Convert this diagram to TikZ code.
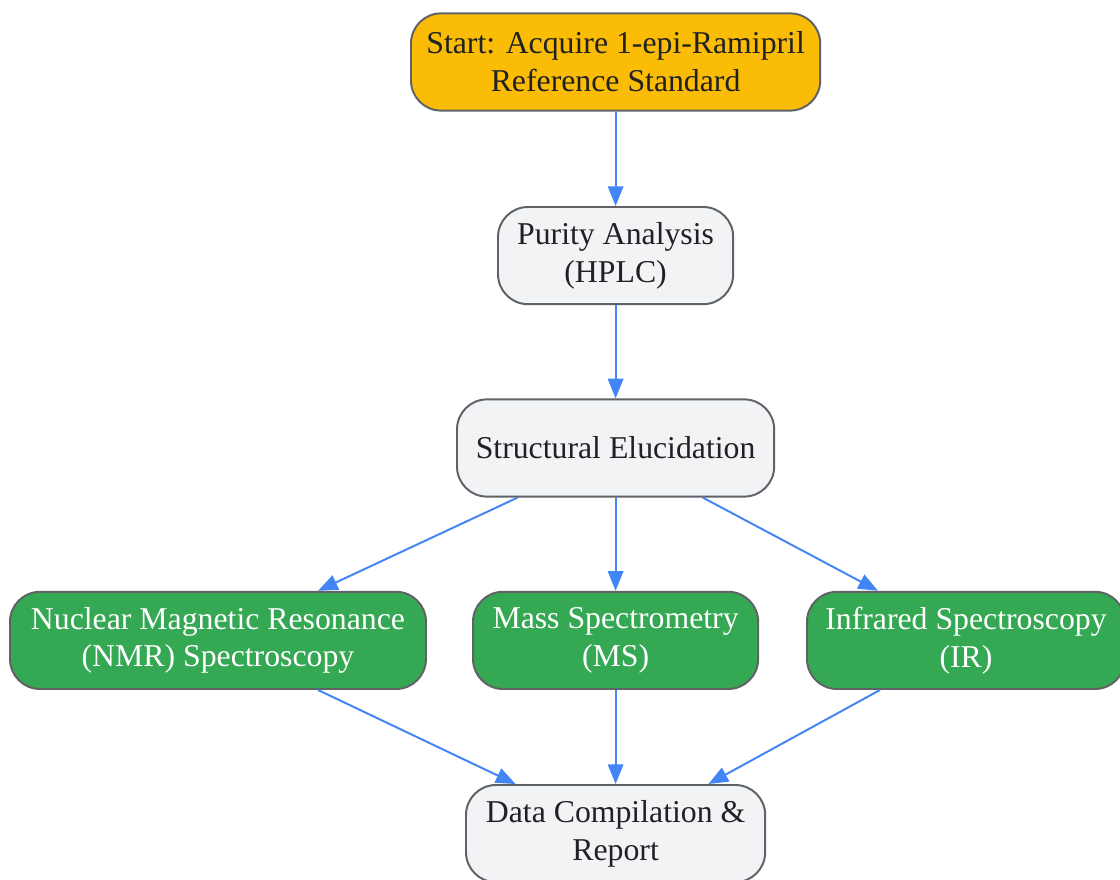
\documentclass[tikz,border=0pt]{standalone}
\usepackage{fontspec}
\setmainfont{Liberation Serif}
\usepackage{xcolor}
\usepackage{tikz}
\usetikzlibrary{calc, arrows.meta, positioning, shapes}

\definecolor{startorange}{HTML}{FBBC05}
\definecolor{stepgray}{HTML}{F1F3F4}
\definecolor{methodgreen}{HTML}{34A853}
\definecolor{edgeblue}{HTML}{4285F4}
\definecolor{bordergray}{HTML}{5F6368}
\definecolor{textdark}{HTML}{202124}

\begin{document}
\begin{tikzpicture}[auto, >={Triangle[length=14pt, width=11pt]}]
		\tikzstyle{box} = [draw=bordergray, line width=1.4pt, rounded corners=0.75cm, align=center, minimum height=2.43cm, inner sep=2pt, font=\fontsize{22.6}{27}\selectfont]
		\tikzstyle{start} = [box, fill=startorange, text=textdark]
		\tikzstyle{plain} = [box, fill=stepgray, text=textdark]
		\tikzstyle{method} = [box, fill=methodgreen, text=white]
		\tikzstyle{flow} = [draw=edgeblue, fill=edgeblue, line width=1.4pt, -{Triangle[length=14pt, width=11pt]}]
		
		\useasboundingbox (0, 0) rectangle (28, 22);
		
		\node[start, minimum width=10.23cm] 	at (15.39, 20.45) 	(st) 	{Start: Acquire 1-epi-Ramipril\\Reference Standard};
		\node[plain, minimum width=5.88cm] 	at (15.39, 15.61) 	(pur) 	{Purity Analysis\\(HPLC)};
		\node[plain, minimum width=7.93cm] 	at (15.39, 10.80) 	(sc) 	{Structural Elucidation};
		\node[method, minimum width=10.40cm] 	at (5.45, 5.99) 	(nmr) 	{Nuclear Magnetic Resonance\\(NMR) Spectroscopy};
		\node[method, minimum width=7.13cm] 	at (15.39, 5.99) 	(ms) 	{Mass Spectrometry\\(MS)};
		\node[method, minimum width=7.95cm] 	at (24.15, 5.99) 	(ir) 	{Infrared Spectroscopy\\(IR)};
		\node[plain, minimum width=7.48cm] 	at (15.39, 1.16) 	(rep) 	{Data Compilation \&\\Report};
		
		\path[every edge/.style={flow}]
		(st)	edge	(pur)
		(pur)	edge	(sc)
		([xshift=-2.45cm]sc.south)	edge	([xshift=2.5cm]nmr.north)
		(sc)	edge	(ms)
		([xshift=2.18cm]sc.south)	edge	([xshift=-2.2cm]ir.north)
		([xshift=2.5cm]nmr.south)	edge	([xshift=-2.5cm]rep.north)
		(ms)	edge	(rep)
		([xshift=-2.15cm]ir.south)	edge	([xshift=2.32cm]rep.north);
		\end{tikzpicture}
\end{document}
